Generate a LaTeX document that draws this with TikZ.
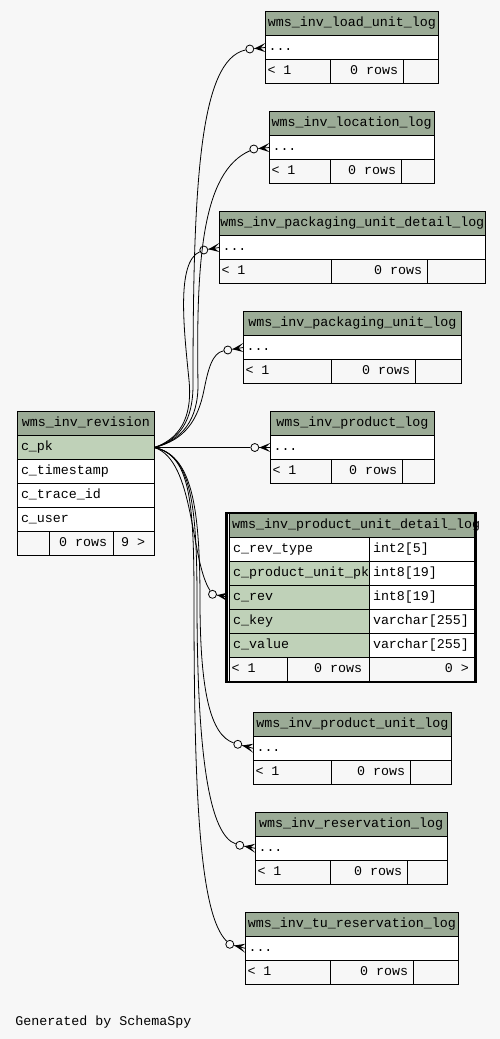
\documentclass[tikz,border=0pt]{standalone}
\usepackage{fontspec}
\newfontfamily\erdfont{Liberation Mono}

\definecolor{pagebg}{RGB}{247,247,247}
\definecolor{headfill}{RGB}{155,171,150}
\definecolor{keyfill}{RGB}{191,209,184}

\tikzset{
  cell/.style={draw, line width=0.8pt, inner sep=0pt, outer sep=0pt,
    anchor=north west, minimum height=24pt, text height=9pt, text depth=3pt,
    font=\erdfont\fontsize{13.33}{16}\selectfont},
  headcell/.style={cell, fill=headfill},
  keycell/.style={cell, fill=keyfill},
  rowcell/.style={cell, fill=white},
  footcell/.style={cell, fill=pagebg},
  txt/.style={inner sep=0pt, text height=9pt, text depth=3pt,
    font=\erdfont\fontsize{13.33}{16}\selectfont},
  link/.style={line width=0.8pt},
  odot/.style={circle, draw, line width=0.8pt, fill=pagebg, minimum size=8pt, inner sep=0pt},
}

% text at the left of a cell
\newcommand{\colname}[2]{\node at ([xshift=3.5pt]#1.west) [txt, anchor=west] {#2};}

% log table: name, left x, top y, right x, 1st divider, 2nd divider, title
\newcommand{\logtable}[7]{%
  \node (#1) at (#2,#3) [headcell, minimum width={#4-#2}] {#7};
  \node (#1-row) at (#1.south west) [rowcell, minimum width={#4-#2}] {};
  \node (#1-f1) at (#1-row.south west) [footcell, minimum width={#5-#2}] {};
  \node (#1-f2) at (#1-f1.north east) [footcell, minimum width={#6-#5}] {};
  \node (#1-f3) at (#1-f2.north east) [footcell, minimum width={#4-#6}] {};
  \node at ([xshift=3pt]#1-row.west) [txt, anchor=west] {...};
  \node at ([xshift=2pt]#1-f1.west) [txt, anchor=west] {< 1};
  \node at ([xshift=-5pt]#1-f2.east) [txt, anchor=east] {0 rows};
}

% crow's foot with circle: circle name, table edge x, row mid y, circle offset
\newcommand{\crowodot}[4]{%
  \fill ({#2-11},{#3+0.7*(#4)}) -- (#2,{#3-4.5}) -- ({#2-5},{#3+0.3*(#4)})
    -- (#2,{#3+4.5}) -- cycle;
  \draw[link] ({#2-11},{#3+0.7*(#4)}) -- (#2,#3);
  \node (#1) at ({#2-15.5},{#3+(#4)}) [odot] {};
}

\begin{document}
\begin{tikzpicture}[x=1pt,y=1pt,yscale=-1,xscale=1]
  \path[fill=pagebg, use as bounding box] (0,0) rectangle (500,1039);

  % parent table
  \node (rev) at (17.3,411.5) [headcell, minimum width=137] {wms\_inv\_revision};
  \node (rev-pk) at (rev.south west) [keycell, minimum width=137] {};
  \node (rev-ts) at (rev-pk.south west) [rowcell, minimum width=137] {};
  \node (rev-trace) at (rev-ts.south west) [rowcell, minimum width=137] {};
  \node (rev-user) at (rev-trace.south west) [rowcell, minimum width=137] {};
  \node (rev-f1) at (rev-user.south west) [footcell, minimum width=32] {};
  \node (rev-f2) at (rev-f1.north east) [footcell, minimum width=64] {};
  \node (rev-f3) at (rev-f2.north east) [footcell, minimum width=41] {};
  \colname{rev-pk}{c\_pk}
  \colname{rev-ts}{c\_timestamp}
  \colname{rev-trace}{c\_trace\_id}
  \colname{rev-user}{c\_user}
  \node at ([xshift=-6pt]rev-f2.east) [txt, anchor=east] {0 rows};
  \node at ([xshift=-9pt]rev-f3.east) [txt, anchor=east] {9 >};

  % log tables
  \logtable{loadunit}{265.3}{11.5}{438.3}{330.3}{403.3}{wms\_inv\_load\_unit\_log}
  \logtable{location}{269.3}{111.5}{434}{330.3}{401.3}{wms\_inv\_location\_log}
  \logtable{packdetail}{219.3}{211.5}{485.3}{331.3}{427.3}{wms\_inv\_packaging\_unit\_detail\_log}
  \logtable{packunit}{243.3}{311.5}{461.3}{331.3}{415.3}{wms\_inv\_packaging\_unit\_log}
  \logtable{product}{270.3}{411.5}{434.3}{331.3}{402.3}{wms\_inv\_product\_log}
  \logtable{unitlog}{253.3}{712.3}{451.3}{331.3}{410.3}{wms\_inv\_product\_unit\_log}
  \logtable{reservation}{255.3}{812.3}{447}{330.3}{407.3}{wms\_inv\_reservation\_log}
  \logtable{tures}{245.3}{912.3}{458.3}{330.3}{413.3}{wms\_inv\_tu\_reservation\_log}

  % selected table
  \node (pud-frame) at (226.7,512.85) [draw, line width=2.7pt, inner sep=0pt,
    outer sep=0pt, anchor=north west, minimum width=248.6, minimum height=169.2] {};
  \node (pud) at (229.5,513) [headcell, minimum width=244.5] {};
  \node (pud-revtype) at (pud.south west) [rowcell, minimum width=139.8] {};
  \node (pud-unitpk) at (pud-revtype.south west) [keycell, minimum width=139.8] {};
  \node (pud-rev) at (pud-unitpk.south west) [keycell, minimum width=139.8] {};
  \node (pud-key) at (pud-rev.south west) [keycell, minimum width=139.8] {};
  \node (pud-value) at (pud-key.south west) [keycell, minimum width=139.8] {};
  \node (pud-revtype-dt) at (pud-revtype.north east) [rowcell, minimum width=104.7] {};
  \node (pud-unitpk-dt) at (pud-unitpk.north east) [rowcell, minimum width=104.7] {};
  \node (pud-rev-dt) at (pud-rev.north east) [rowcell, minimum width=104.7] {};
  \node (pud-key-dt) at (pud-key.north east) [rowcell, minimum width=104.7] {};
  \node (pud-value-dt) at (pud-value.north east) [rowcell, minimum width=104.7] {};
  \node (pud-f1) at (pud-value.south west) [footcell, minimum width=57.8] {};
  \node (pud-f2) at (pud-f1.north east) [footcell, minimum width=82] {};
  \node (pud-f3) at (pud-f2.north east) [footcell, minimum width=104.7] {};
  \node at ([xshift=2.5pt]pud.west) [txt, anchor=west] {wms\_inv\_product\_unit\_detail\_log};
  \colname{pud-revtype}{c\_rev\_type}
  \colname{pud-unitpk}{c\_product\_unit\_pk}
  \colname{pud-rev}{c\_rev}
  \colname{pud-key}{c\_key}
  \colname{pud-value}{c\_value}
  \colname{pud-revtype-dt}{int2[5]}
  \colname{pud-unitpk-dt}{int8[19]}
  \colname{pud-rev-dt}{int8[19]}
  \colname{pud-key-dt}{varchar[255]}
  \colname{pud-value-dt}{varchar[255]}
  \node at ([xshift=2pt]pud-f1.west) [txt, anchor=west] {< 1};
  \node at ([xshift=-7pt]pud-f2.east) [txt, anchor=east] {0 rows};
  \node at ([xshift=-5pt]pud-f3.east) [txt, anchor=east] {0 >};

  % child ends
  \crowodot{o-loadunit}{265.3}{47.5}{1.5}
  \crowodot{o-location}{269.3}{147.5}{1.5}
  \crowodot{o-packdetail}{219.3}{247.5}{2.5}
  \crowodot{o-packunit}{243.3}{347.5}{2.5}
  \crowodot{o-product}{270.3}{447.5}{0}
  \crowodot{o-pud}{228}{597}{-2.7}
  \crowodot{o-unitlog}{253.3}{748.3}{-4}
  \crowodot{o-reservation}{255.3}{848.3}{-3}
  \crowodot{o-tures}{245.3}{948.3}{-4}

  % relations
  \draw[link] (rev-pk.east) .. controls (180,440) and (193,420) .. (193,385)
    .. controls (193,180) and (200,60) .. (o-loadunit);
  \draw[link] (rev-pk.east) .. controls (182,440) and (198,420) .. (198,385)
    .. controls (196,260) and (202,172) .. (o-location);
  \draw[link] (rev-pk.east) .. controls (185,437) and (192,410) .. (189,380)
    .. controls (184,330) and (176,262) .. (o-packdetail);
  \draw[link] (rev-pk.east) .. controls (185,440) and (198,420) .. (204,390)
    .. controls (208,370) and (212,353) .. (o-packunit);
  \draw[link] (rev-pk.east) -- (o-product);
  \draw[link] (rev-pk.east) .. controls (195,460) and (190,560) .. (o-pud);
  \draw[link] (rev-pk.east) .. controls (190,455) and (200,500) .. (200,600)
    .. controls (200,690) and (210,735) .. (o-unitlog);
  \draw[link] (rev-pk.east) .. controls (190,455) and (197,500) .. (197,600)
    .. controls (197,760) and (210,835) .. (o-reservation);
  \draw[link] (rev-pk.east) .. controls (190,455) and (194,500) .. (194,600)
    .. controls (194,800) and (200,915) .. (o-tures);

  \node (credit) at (15.2,1025) [txt, anchor=base west, text height=, text depth=] {Generated by SchemaSpy};
\end{tikzpicture}
\end{document}
